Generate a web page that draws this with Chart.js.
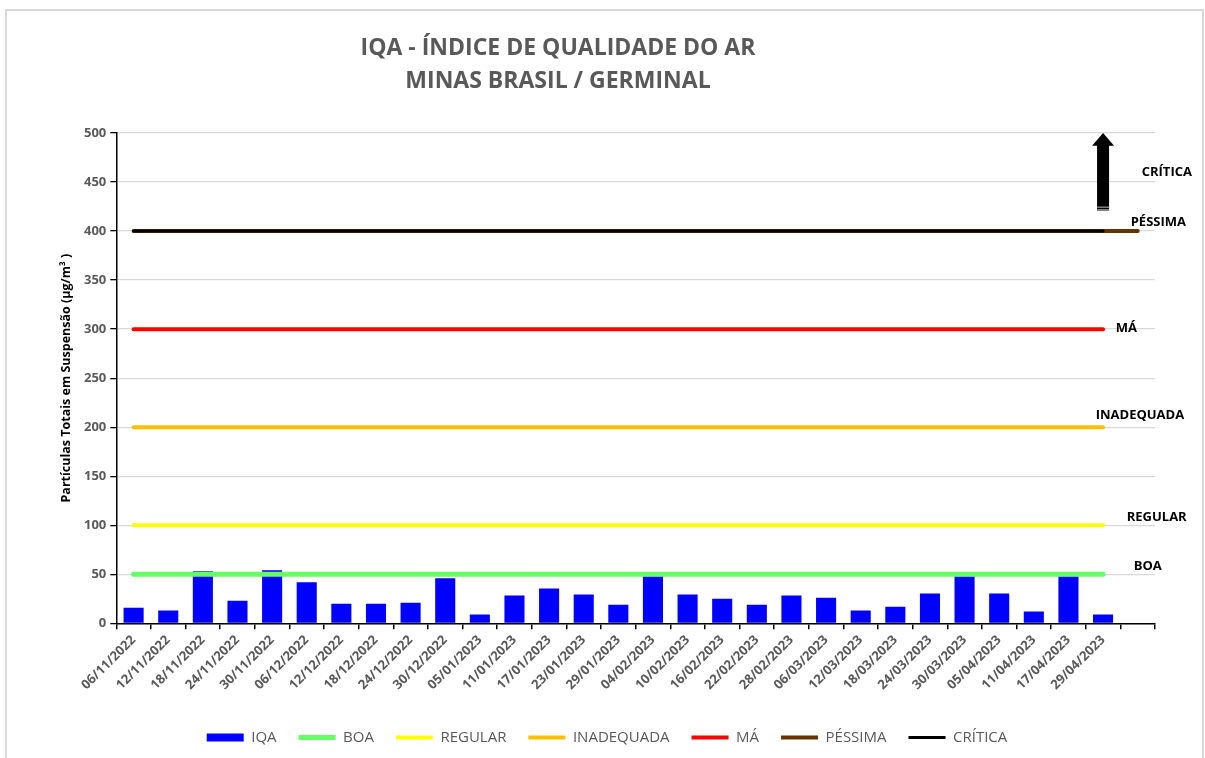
<!DOCTYPE html>
<html>
<head>
<meta charset="utf-8">
<script src="https://cdn.jsdelivr.net/npm/chart.js@4/dist/chart.umd.min.js"></script>
<style>
body { margin:0; background:#fff; }
#wrap { position:relative; width:1205px; height:758px; overflow:hidden; }
#frame { position:absolute; left:5px; top:9px; width:1199px; height:760px; border:2px solid #d9d9d9; border-bottom:none; box-sizing:border-box; pointer-events:none; }
canvas { position:absolute; left:0; top:0; }
</style>
</head>
<body>
<div id="wrap">
  <canvas id="iqaChart" width="1205" height="758"></canvas>
  <div id="frame"></div>
</div>
<script>
// datas de amostragem (ultima categoria vazia)
const datas = ['06/11/2022','12/11/2022','18/11/2022','24/11/2022','30/11/2022','06/12/2022','12/12/2022',
  '18/12/2022','24/12/2022','30/12/2022','05/01/2023','11/01/2023','17/01/2023','23/01/2023','29/01/2023',
  '04/02/2023','10/02/2023','16/02/2023','22/02/2023','28/02/2023','06/03/2023','12/03/2023','18/03/2023',
  '24/03/2023','30/03/2023','05/04/2023','11/04/2023','17/04/2023','29/04/2023','']

const iqa = [16, 13, 53, 23, 54, 42, 20, 20, 21, 46, 9, 28.5, 35.5, 29.5, 19,
  48, 29.5, 25, 19, 28.5, 26, 13, 17, 30.5, 48, 30.5, 12, 48, 9]

// limites das faixas
const boa = [50,50,50,50,50,50,50,50,50,50,50,50,50,50,50,50,50,50,50,50,50,50,50,50,50,50,50,50,50]
const regular = [100,100,100,100,100,100,100,100,100,100,100,100,100,100,100,100,100,100,100,100,100,100,100,100,100,100,100,100,100]
const inadequada = [200,200,200,200,200,200,200,200,200,200,200,200,200,200,200,200,200,200,200,200,200,200,200,200,200,200,200,200,200]
const ma = [300,300,300,300,300,300,300,300,300,300,300,300,300,300,300,300,300,300,300,300,300,300,300,300,300,300,300,300,300]
const pessima = [400,400,400,400,400,400,400,400,400,400,400,400,400,400,400,400,400,400,400,400,400,400,400,400,400,400,400,400,400,400]
const critica = [400,400,400,400,400,400,400,400,400,400,400,400,400,400,400,400,400,400,400,400,400,400,400,400,400,400,400,400,400]

const yTicks = [0, 50, 100, 150, 200, 250, 300, 350, 400, 450, 500]

const FONT = "'Open Sans', sans-serif"

function faixa(label, data, color, width, order) {
    return {
        type: 'line',
        label: label,
        data: data,
        borderColor: color,
        backgroundColor: color,
        borderWidth: width,
        borderCapStyle: 'round',
        pointRadius: 0,
        pointHoverRadius: 0,
        pointStyle: 'line',
        fill: false,
        order: order
    }
}

// titulo, rotulos das faixas e seta
const extras = {
    id: 'extras',
    afterDatasetsDraw(chart) {
        const ctx = chart.ctx
        const x = chart.scales.x
        const y = chart.scales.y
        ctx.save()

        ctx.fillStyle = '#595959'
        ctx.font = 'bold 23px ' + FONT
        ctx.textAlign = 'center'
        ctx.textBaseline = 'middle'
        ctx.fillText('IQA - ÍNDICE DE QUALIDADE DO AR', 558, 48)
        ctx.fillText('MINAS BRASIL / GERMINAL', 558, 81)

        // seta
        const ax = x.getPixelForValue(28)
        const tip = y.getPixelForValue(500)
        const base = y.getPixelForValue(488)
        const bot = y.getPixelForValue(421)
        ctx.fillStyle = '#000'
        ctx.fillRect(ax - 6, base, 12, bot - base)
        ctx.beginPath()
        ctx.moveTo(ax - 11, base + 1)
        ctx.lineTo(ax, tip)
        ctx.lineTo(ax + 11, base + 1)
        ctx.closePath()
        ctx.fill()
        ctx.fillStyle = '#7f7f7f'
        ctx.fillRect(ax - 6, bot - 4, 12, 1.5)
        ctx.fillRect(ax - 6, bot - 1.5, 12, 1.5)

        // rotulos
        const xr = x.getPixelForValue(29)
        const rot = [['CRÍTICA', 460, 4], ['PÉSSIMA', 409, -7], ['MÁ', 301, -22],
            ['INADEQUADA', 212, -42], ['REGULAR', 108, -11], ['BOA', 58, -4]]
        ctx.fillStyle = '#000'
        ctx.font = 'bold 13px ' + FONT
        ctx.textAlign = 'left'
        rot.forEach(r => ctx.fillText(r[0], xr + r[2], y.getPixelForValue(r[1])))
        ctx.restore()
    }
}

const iqaChart = new Chart(document.getElementById('iqaChart'), {
    type: 'bar',
    data: {
        labels: datas,
        datasets: [
            {
                label: 'IQA',
                data: iqa,
                backgroundColor: '#0000ff',
                borderWidth: 0,
                pointStyle: 'rect',
                categoryPercentage: 1,
                barPercentage: 0.58,
                order: 3
            },
            faixa('BOA', boa, '#66ff66', 5, 2),
            faixa('REGULAR', regular, '#ffff00', 4, 2),
            faixa('INADEQUADA', inadequada, '#ffc000', 4, 2),
            faixa('MÁ', ma, '#ff0000', 4, 2),
            faixa('PÉSSIMA', pessima, '#663300', 4, 2),
            faixa('CRÍTICA', critica, '#000000', 3, 1)
        ]
    },
    options: {
        responsive: false,
        animation: false,
        layout: { padding: { left: 59, right: 50, top: 133, bottom: 3 } },
        plugins: {
            title: { display: false },
            tooltip: { enabled: false },
            legend: {
                position: 'bottom',
                labels: {
                    usePointStyle: true,
                    pointStyleWidth: 37,
                    boxHeight: 8,
                    padding: 22,
                    color: '#595959',
                    font: { family: FONT, size: 15 },
                    sort: (a, b) => a.datasetIndex - b.datasetIndex
                }
            }
        },
        scales: {
            x: {
                grid: { drawOnChartArea: false, drawTicks: true, tickLength: 6, color: '#000', lineWidth: 1.5 },
                border: { color: '#000', width: 1.5 },
                ticks: {
                    autoSkip: false, maxRotation: 45, minRotation: 45,
                    color: '#595959', font: { family: FONT, size: 13, weight: 'bold' }
                },
                afterFit(axis) { axis.height += 12 }
            },
            y: {
                min: 0,
                max: 500,
                afterBuildTicks(axis) { axis.ticks = yTicks.map(v => ({ value: v })) },
                grid: { color: '#d9d9d9', tickColor: '#000', tickLength: 6, lineWidth: 1.3 },
                border: { color: '#000', width: 1.5 },
                ticks: { color: '#595959', padding: 4, font: { family: FONT, size: 13, weight: 'bold' } },
                title: {
                    display: true,
                    text: 'Partículas Totais em Suspensão (µg/m³ )',
                    color: '#000',
                    font: { family: FONT, size: 12.5, weight: 'bold' },
                    padding: { top: 0, bottom: 6 }
                }
            }
        }
    },
    plugins: [extras]
})
</script>
</body>
</html>
